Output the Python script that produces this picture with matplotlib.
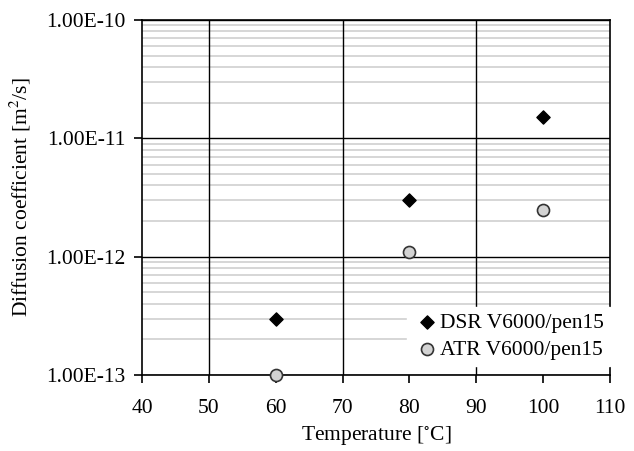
import matplotlib
matplotlib.use('Agg')
import matplotlib.pyplot as plt
import numpy as np
from matplotlib.ticker import FixedLocator, FuncFormatter, LogLocator, NullFormatter

matplotlib.rcParams.update({'font.size': 15.5, 'font.family': 'Liberation Serif',
                            'mathtext.fontset': 'stix'})

# data
temps = [60, 80, 100]
dsr = [3e-13, 3e-12, 1.5e-11]
atr = [1e-13, 1.1e-12, 2.5e-12]
xgrid = [50, 70, 90]

fig = plt.figure(figsize=(6.34, 4.51), dpi=100)
ax = fig.add_axes([142/634, 1 - 375/451, 468/634, 355/451])

ax.set_yscale('log')
ax.set_xlim(40, 110)
ax.set_ylim(1e-13, 1e-10)

# gridlines
ax.yaxis.set_minor_locator(LogLocator(base=10, subs=np.arange(2, 10)))
ax.yaxis.set_minor_formatter(NullFormatter())
ax.grid(which='minor', axis='y', color='#d0d0d0', lw=1.2, zorder=0)
ax.grid(which='major', axis='y', color='black', lw=1.0, zorder=1)
ax.set_axisbelow(True)
for xv in xgrid:
    ax.axvline(xv, color='black', lw=1.0, zorder=2)

ax.xaxis.set_major_locator(FixedLocator(range(40, 111, 10)))
ax.yaxis.set_major_locator(FixedLocator([1e-13, 1e-12, 1e-11, 1e-10]))
ax.yaxis.set_major_formatter(FuncFormatter(lambda v, p: '%.2E' % v))
ax.tick_params(axis='both', which='major', direction='out', length=6, width=1.2, pad=6)
ax.tick_params(axis='y', which='minor', length=0)
ax.tick_params(axis='x', which='major', pad=11)
for s in ax.spines.values():
    s.set_linewidth(1.2)

ax.scatter(temps, dsr, marker='D', s=45, color='black', zorder=5, clip_on=False,
           label='DSR V6000/pen15')
ax.scatter(temps, atr, marker='o', s=75, facecolor='#d3d3d3', edgecolor='#333333',
           linewidth=1.2, zorder=5, clip_on=False, label='ATR V6000/pen15')

leg = ax.legend(loc='lower right', bbox_to_anchor=(1.0, 0.025), frameon=True,
                fancybox=False, edgecolor='white', framealpha=1.0,
                handletextpad=0.0, borderpad=0.3, labelspacing=0.3,
                handlelength=1.2, borderaxespad=0.0)
leg.set_zorder(6)

ax.set_xlabel('Temperature [$^{\\circ}$C]', labelpad=5)
ax.set_ylabel('Diffusion coefficient [m$^2$/s]', labelpad=9)

fig.savefig('out.png', dpi=100)
